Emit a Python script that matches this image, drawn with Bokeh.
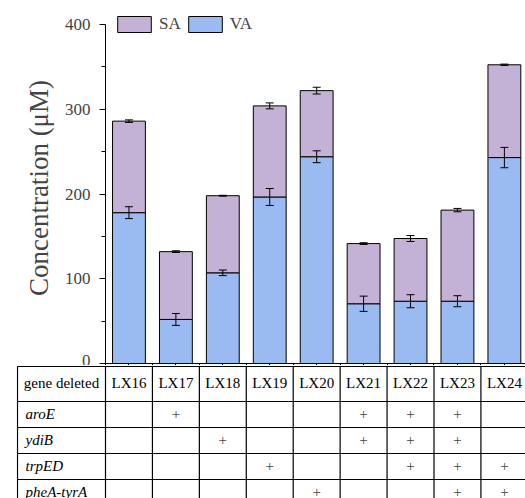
from bokeh.plotting import figure
from bokeh.models import (ColumnDataSource, Range1d, FixedTicker, Whisker, TeeHead,
                          Legend, LegendItem)
from bokeh.core.properties import value
from bokeh.embed import file_html
from bokeh.resources import INLINE

# ---------------- data ----------------
strains = ["LX16", "LX17", "LX18", "LX19", "LX20", "LX21", "LX22", "LX23", "LX24"]
va = [178, 52, 107, 196.5, 244, 70.5, 73.5, 73.5, 243]
sa = [108, 80, 91, 107.5, 78, 71, 74, 107.5, 109.5]
va_err = [7, 7, 3.3, 10, 7, 9, 7.7, 6.5, 12]
sa_err = [1.5, 1, 0.5, 3.5, 4, 1, 3.5, 2, 0.8]

genes = ["aroE", "ydiB", "trpED", "pheA-tyrA"]
aroE_del = [0, 1, 0, 0, 0, 1, 1, 1, 0]
ydiB_del = [0, 0, 1, 0, 0, 1, 1, 1, 0]
trpED_del = [0, 0, 0, 1, 0, 0, 1, 1, 1]
pheA_tyrA_del = [0, 0, 0, 0, 1, 0, 0, 1, 1]
gene_flags = [aroE_del, ydiB_del, trpED_del, pheA_tyrA_del]

y_major = [0, 100, 200, 300, 400]
y_minor = [50, 150, 250, 350]

SERIF = "Liberation Serif"
SA_COLOR = "#C3B1D6"
VA_COLOR = "#9ABBF1"

# ---------------- chart ----------------
xs = list(range(len(strains)))
total = [a + b for a, b in zip(va, sa)]
src = ColumnDataSource(dict(
    x=xs, va=va, total=total,
    va_lo=[v - e for v, e in zip(va, va_err)], va_hi=[v + e for v, e in zip(va, va_err)],
    t_lo=[t - e for t, e in zip(total, sa_err)], t_hi=[t + e for t, e in zip(total, sa_err)],
))

X_END = 8.45
p1 = figure(width=525, height=365, output_backend="svg", toolbar_location=None,
            x_range=Range1d(-0.5, X_END), y_range=Range1d(0, 414.2),
            min_border_left=105, min_border_right=0, min_border_top=12, min_border_bottom=2)
p1.outline_line_color = None
p1.grid.visible = False

va_r = p1.vbar(x="x", top="va", bottom=0, width=0.70, source=src,
               fill_color=VA_COLOR, line_color="black", line_width=1)
sa_r = p1.vbar(x="x", top="total", bottom="va", width=0.70, source=src,
               fill_color=SA_COLOR, line_color="black", line_width=1)

for lo, hi in (("va_lo", "va_hi"), ("t_lo", "t_hi")):
    w = Whisker(base="x", lower=lo, upper=hi, source=src, line_color="black", line_width=1,
                level="overlay",
                upper_head=TeeHead(size=8, line_color="black", line_width=1),
                lower_head=TeeHead(size=8, line_color="black", line_width=1))
    p1.add_layout(w)

yax = p1.yaxis[0]
yax.ticker = FixedTicker(ticks=y_major, minor_ticks=y_minor)
yax.bounds = (0, 400)
yax.axis_label = "Concentration (μM)"
yax.axis_label_text_font = SERIF
yax.axis_label_text_font_size = "27px"
yax.axis_label_text_font_style = "normal"
yax.axis_label_standoff = 8
yax.major_label_text_font = SERIF
yax.major_label_text_font_size = "17px"
yax.major_label_standoff = 9
yax.major_tick_out = 6
yax.major_tick_in = 0
yax.minor_tick_out = 4
yax.minor_tick_in = 0
yax.axis_line_color = "black"
yax.major_tick_line_color = "black"
yax.minor_tick_line_color = "black"

xax = p1.xaxis[0]
xax.ticker = FixedTicker(ticks=[], minor_ticks=[i * 0.5 for i in range(-1, 2 * len(strains))])
xax.major_label_standoff = 0
xax.minor_tick_out = 2
xax.minor_tick_in = 0
xax.minor_tick_line_color = "black"
xax.axis_line_color = "black"

legend = Legend(items=[LegendItem(label="SA", renderers=[sa_r]),
                       LegendItem(label="VA", renderers=[va_r])],
                orientation="horizontal", location=(8, 329),
                glyph_width=42, glyph_height=20, label_height=19, label_width=0,
                label_standoff=4, spacing=3, padding=0, margin=0,
                label_text_font=SERIF, label_text_font_size="17px",
                border_line_color=None, background_fill_alpha=0)
p1.add_layout(legend)

# ---------------- table ----------------
px_per_unit = 420 / (X_END + 0.5)
t_left = -0.5 - 88 / px_per_unit
t_start = X_END - 509 / px_per_unit
row_bounds = [0, 35, 61, 87, 113, 139]
p2 = figure(width=525, height=133, output_backend="svg", toolbar_location=None,
            x_range=Range1d(t_start, X_END), y_range=Range1d(132, -1),
            x_axis_location=None, y_axis_location=None,
            min_border_left=16, min_border_right=0, min_border_top=0, min_border_bottom=0)
p2.outline_line_color = None
p2.grid.visible = False

col_bounds = [t_left] + [i + 0.5 for i in range(-1, len(strains))]
p2.segment(x0=[t_left] * len(row_bounds), x1=[X_END + 1] * len(row_bounds),
           y0=row_bounds, y1=row_bounds, line_color="black", line_width=1.2)
p2.segment(x0=col_bounds, x1=col_bounds, y0=[0] * len(col_bounds),
           y1=[row_bounds[-1]] * len(col_bounds), line_color="black", line_width=1.2)

row_mid = [(row_bounds[i] + row_bounds[i + 1]) / 2 - 1 for i in range(len(row_bounds) - 1)]

p2.text(x=[(t_left - 0.5) / 2] + xs, y=[row_mid[0]] * (len(strains) + 1),
        text=["gene deleted"] + strains, text_align="center", text_baseline="middle",
        text_font=value(SERIF), text_font_size="15px", text_color="black")
p2.text(x=[t_left + 8 / px_per_unit] * len(genes), y=row_mid[1:],
        text=genes, text_align="left", text_baseline="middle",
        text_font=value(SERIF), text_font_size="15px", text_font_style="italic",
        text_color="black")

px, py = [], []
for gi, flags in enumerate(gene_flags):
    for xi, f in enumerate(flags):
        if f:
            px.append(xi)
            py.append(row_mid[gi + 1])
p2.text(x=px, y=py, text=["+"] * len(px), text_align="center", text_baseline="middle",
        text_font=value(SERIF), text_font_size="15px", text_color="#444444")

open("out.html", "w").write(file_html([p1, p2], INLINE))
